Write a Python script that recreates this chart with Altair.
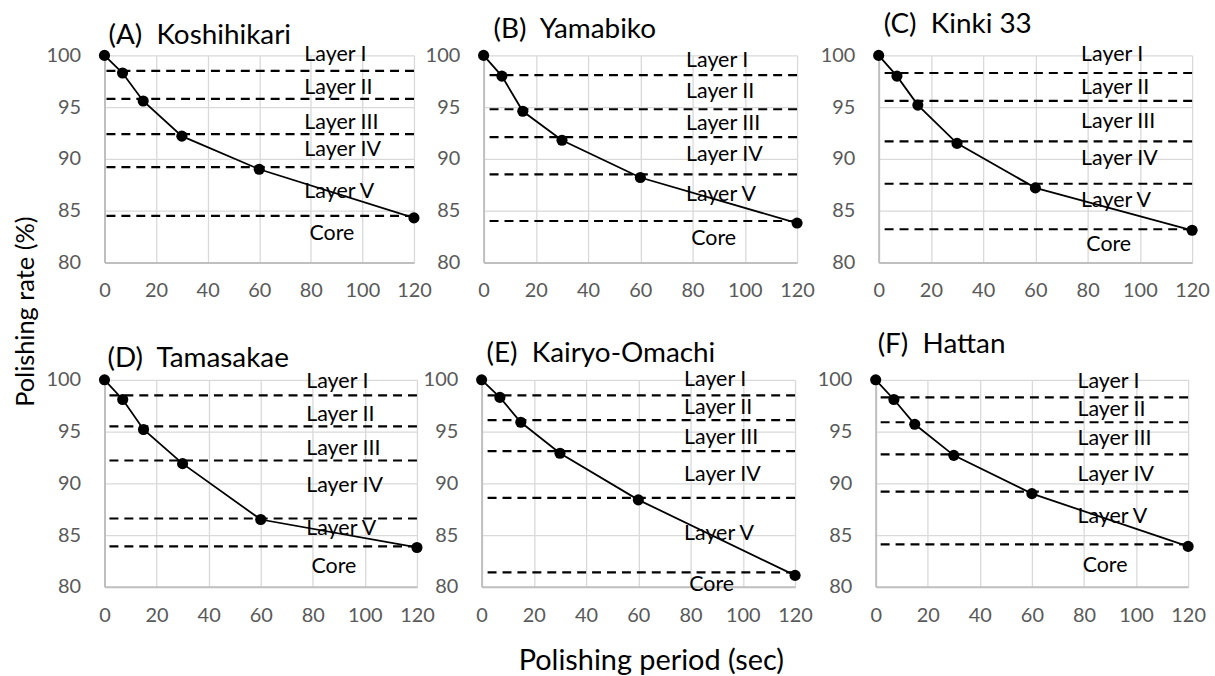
import altair as alt
import pandas as pd

FONT = "Lato"

PERIOD = [0, 7, 15, 30, 60, 120]
LAYER_NAMES = ["Layer I", "Layer II", "Layer III", "Layer IV", "Layer V", "Core"]
X_TICKS = [0, 20, 40, 60, 80, 100, 120]
Y_TICKS = [80, 85, 90, 95, 100]

TITLE_A = "(A)\u00a0\u00a0Koshihikari"
RATE_A = [100, 98.3, 95.6, 92.2, 89.0, 84.3]
BOUND_A = [98.5, 95.8, 92.4, 89.2, 84.5]
LABEL_Y_A = [100, 96.8, 93.5, 90.9, 86.8, 82.7]

TITLE_B = "(B)\u00a0\u00a0Yamabiko"
RATE_B = [100, 98.0, 94.6, 91.8, 88.2, 83.8]
BOUND_B = [98.1, 94.8, 92.1, 88.5, 84.0]
LABEL_Y_B = [99.5, 96.5, 93.4, 90.4, 86.5, 82.3]

TITLE_C = "(C)\u00a0\u00a0Kinki 33"
RATE_C = [100, 98.0, 95.2, 91.5, 87.2, 83.1]
BOUND_C = [98.3, 95.6, 91.7, 87.6, 83.2]
LABEL_Y_C = [100, 96.8, 93.6, 90.0, 85.9, 81.7]

TITLE_D = "(D)\u00a0\u00a0Tamasakae"
RATE_D = [100, 98.1, 95.2, 91.9, 86.5, 83.8]
BOUND_D = [98.5, 95.5, 92.2, 86.6, 83.9]
LABEL_Y_D = [99.8, 96.6, 93.3, 89.7, 85.6, 81.9]

TITLE_E = "(E)\u00a0\u00a0Kairyo-Omachi"
RATE_E = [100, 98.3, 95.9, 92.9, 88.4, 81.1]
BOUND_E = [98.5, 96.1, 93.1, 88.6, 81.4]
LABEL_Y_E = [100, 97.3, 94.4, 90.8, 85.1, 80.2]

TITLE_F = "(F)\u00a0\u00a0Hattan"
RATE_F = [100, 98.1, 95.7, 92.7, 89.0, 83.9]
BOUND_F = [98.3, 95.9, 92.8, 89.2, 84.1]
LABEL_Y_F = [99.8, 97.1, 94.3, 90.8, 86.7, 82.0]

LABEL_X = [77.5, 77.5, 77.5, 77.5, 77.5, 79.5]


def panel(title, rates, bounds, label_y, width, height, tdx, tdy,
          xtitle=None, ytitle=None):
    xaxis_kw = dict(values=X_TICKS, labelPadding=18.5, title=xtitle or "",
                    labelFlush=False, labelOverlap=False)
    yaxis_kw = dict(values=Y_TICKS, labelPadding=24, title=ytitle or "",
                    labelFlush=False, labelOverlap=False)
    if xtitle:
        xaxis_kw.update(titleX=170, titleY=83, titleBaseline="alphabetic",
                        titleAlign="center", titleFontSize=29)
    if ytitle:
        yaxis_kw.update(titleX=-71, titleY=257, titleAngle=270,
                        titleBaseline="alphabetic", titleAlign="center",
                        titleFontSize=25.5)
    xs = alt.Scale(domain=[0, 120], nice=False)
    ys = alt.Scale(domain=[80, 100], nice=False)
    xa = alt.Axis(**xaxis_kw)
    ya = alt.Axis(**yaxis_kw)

    pts = pd.DataFrame({"t": PERIOD, "r": rates})
    base = alt.Chart(pts)
    line = base.mark_line(color="black", strokeWidth=1.8).encode(
        x=alt.X("t:Q", scale=xs, axis=xa), y=alt.Y("r:Q", scale=ys, axis=ya))
    dots = base.mark_circle(color="black", size=125, opacity=1).encode(
        x=alt.X("t:Q", scale=xs, axis=xa), y=alt.Y("r:Q", scale=ys, axis=ya))
    rules = alt.Chart(pd.DataFrame({"b": bounds})).mark_rule(
        color="black", strokeWidth=2.2, strokeDash=[9, 6]).encode(
        y=alt.Y("b:Q", scale=ys, axis=ya))
    labels = alt.Chart(pd.DataFrame({"name": LAYER_NAMES, "ly": label_y,
                                     "lx": LABEL_X})).mark_text(
        align="left", baseline="middle", font=FONT, fontSize=21.5,
        color="black").encode(
        x=alt.X("lx:Q", scale=xs, axis=xa),
        y=alt.Y("ly:Q", scale=ys, axis=ya),
        text="name:N")
    return alt.layer(rules, line, dots, labels).properties(
        width=width, height=height,
        title=alt.TitleParams(text=title, anchor="start", frame="group",
                              dx=tdx, dy=tdy, offset=0, font=FONT,
                              fontSize=28, fontWeight="normal",
                              color="black", baseline="alphabetic"))


H = 208
pA = panel(TITLE_A, RATE_A, BOUND_A, LABEL_Y_A, 311, H, 4, 28,
           ytitle="Polishing rate (%)")
pB = panel(TITLE_B, RATE_B, BOUND_B, LABEL_Y_B, 315, H, 10, 21)
pC = panel(TITLE_C, RATE_C, BOUND_C, LABEL_Y_C, 315, H, 5, 16)
pD = panel(TITLE_D, RATE_D, BOUND_D, LABEL_Y_D, 314, H, 3, 25)
pE = panel(TITLE_E, RATE_E, BOUND_E, LABEL_Y_E, 315, H, 5, 21)
pE = panel(TITLE_E, RATE_E, BOUND_E, LABEL_Y_E, 315, H, 5, 21,
           xtitle="Polishing period (sec)")
pF = panel(TITLE_F, RATE_F, BOUND_F, LABEL_Y_F, 314, H, 2, 11)

row1 = alt.hconcat(pA, alt.hconcat(pB, pC, spacing=82, bounds="flush"),
                   spacing=70, bounds="flush")
row2 = alt.hconcat(pD, alt.hconcat(pE, pF, spacing=81, bounds="flush"),
                   spacing=65, bounds="flush")

chart = alt.vconcat(row1, row2, spacing=326, bounds="flush").configure(
    padding={"left": 14, "top": 9, "right": 5, "bottom": 5},
    background="white",
).configure_view(stroke=None).configure_axis(
    grid=True, gridColor="#d9d9d9", gridWidth=1.3,
    domainColor="#bfbfbf", domainWidth=2,
    ticks=False,
    labelFont=FONT, labelFontSize=20, labelColor="#595959",
    titleFont=FONT, titleColor="black", titleFontWeight="normal",
)

chart.save("out.html", embed_options={"renderer": "svg", "actions": False})
